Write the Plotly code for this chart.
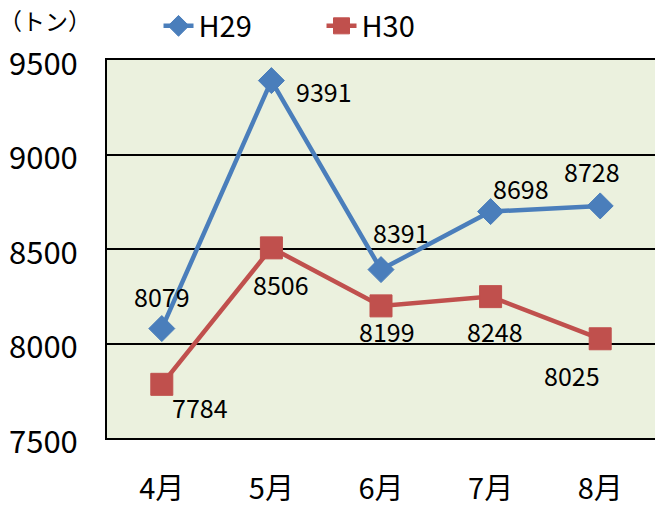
import plotly.graph_objects as go

months = ["4月", "5月", "6月", "7月", "8月"]
h29 = [8079, 9391, 8391, 8698, 8728]
h30 = [7784, 8506, 8199, 8248, 8025]
y_ticks = [7500, 8000, 8500, 9000, 9500]

# label offsets in pixels (xshift, yshift)
h29_offsets = [(0, 33), (53, -10), (20, 38), (30, 24), (-8, 35)]
h30_offsets = [(38, -23), (10, -36), (6, -25), (4, -34), (-28, -36)]

BLUE = "#4A7EBB"
RED = "#C0504D"
FONT = "Noto Sans CJK JP"

fig = go.Figure()
fig.add_trace(go.Scatter(
    x=months, y=h29, name="H29", mode="lines+markers",
    line=dict(color=BLUE, width=4.5),
    marker=dict(symbol="diamond", size=20, color=BLUE, line=dict(color=BLUE, width=1)),
))
fig.add_trace(go.Scatter(
    x=months, y=h30, name="H30", mode="lines+markers",
    line=dict(color=RED, width=4.5),
    marker=dict(symbol="square", size=22, color=RED, line=dict(color=RED, width=1)),
))

annotations = []
for series, offs in ((h29, h29_offsets), (h30, h30_offsets)):
    for m, v, (dx, dy) in zip(months, series, offs):
        annotations.append(dict(
            x=m, y=v, xref="x", yref="y", text=str(v), showarrow=False,
            xshift=dx, yshift=dy, font=dict(size=25, color="black", family=FONT),
        ))
annotations.append(dict(
    x=-0.113, y=1.106, xref="paper", yref="paper", text="（トン）", showarrow=False,
    xanchor="center", yanchor="middle", font=dict(size=23, color="black", family=FONT),
))

fig.update_layout(
    width=655, height=508,
    margin=dict(l=107, r=0, t=60, b=70),
    paper_bgcolor="white",
    plot_bgcolor="#EBF1DE",
    font=dict(family=FONT, color="black"),
    showlegend=True,
    legend=dict(
        orientation="h", x=0.094, y=1.09, xanchor="left", yanchor="middle",
        font=dict(size=29, color="black", family=FONT),
        entrywidth=118, entrywidthmode="pixels",
        bgcolor="rgba(0,0,0,0)",
    ),
    annotations=annotations,
    xaxis=dict(
        range=[-0.5, 4.5], showgrid=False, zeroline=False,
        showline=True, linecolor="black", linewidth=2, mirror=True,
        ticks="", tickfont=dict(size=29, color="black", family=FONT),
        ticklabelstandoff=24, automargin=False,
    ),
    yaxis=dict(
        range=[7500, 9500], tickvals=y_ticks, showgrid=True, gridcolor="black", gridwidth=1.5,
        zeroline=False, showline=True, linecolor="black", linewidth=2, mirror=True,
        ticks="", tickfont=dict(size=31, color="black", family=FONT),
        ticklabelstandoff=21, ticklabelshift=4, automargin=False,
    ),
)

fig.write_html(
    "out.html",
    config={"displayModeBar": False},
    post_script="document.body.style.margin='0';document.body.style.overflow='hidden';",
)
